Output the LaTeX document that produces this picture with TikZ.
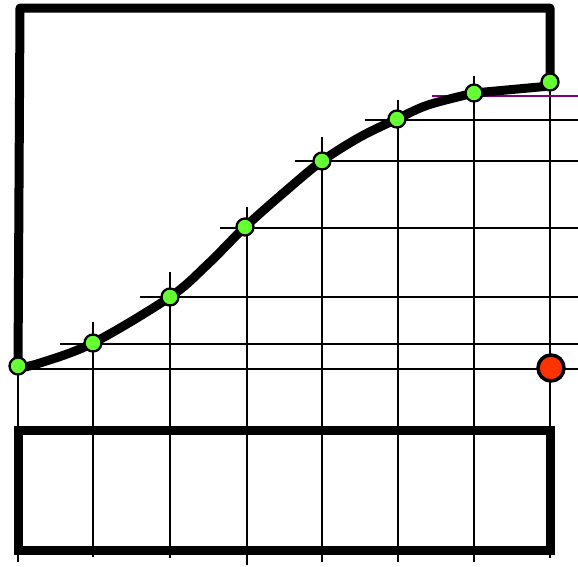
\documentclass[tikz,border=0pt]{standalone}
\usetikzlibrary{calc}
\definecolor{dotgreen}{RGB}{102,255,51}
\definecolor{dotred}{RGB}{255,51,0}
\definecolor{lilac}{RGB}{128,0,128}
\tikzset{
  thickline/.style={line width=9pt, line cap=round, line join=round},
  gridline/.style={line width=2.7pt},
  gdot/.style={circle, draw=black, line width=2.3pt, fill=dotgreen, inner sep=0pt, minimum size=17pt},
  rdot/.style={circle, draw=black, line width=3.5pt, fill=dotred, inner sep=0pt, minimum size=26pt},
}
\begin{document}
\begin{tikzpicture}[x=1pt,y=-1pt]
\useasboundingbox (0,0) rectangle (578,566);
% vertical grid lines
\draw[gridline] (18,366) -- (18,562);
\draw[gridline] (93,322) -- (93,557);
\draw[gridline] (170,272) -- (170,558);
\draw[gridline] (247,207) -- (247,565);
\draw[gridline] (322,137) -- (322,562);
\draw[gridline] (398,100) -- (398,562);
\draw[gridline] (474,76) -- (474,562);
\draw[gridline] (550,82) -- (550,558);
% horizontal grid lines
\draw[gridline] (18,369) -- (578,369);
\draw[gridline] (60,344) -- (578,344);
\draw[gridline] (140,297) -- (578,297);
\draw[gridline] (220,228) -- (578,228);
\draw[gridline] (295,161) -- (578,161);
\draw[gridline] (365,120) -- (578,120);
\draw[line width=2.4pt, lilac] (432,96) -- (578,96);
% frame
\draw[thickline] (18,368) -- (20,8) -- (550,8) -- (550,86);
% bottom box
\draw[line width=9pt] (18,430) rectangle (550,550);
% curve
\draw[thickline] plot[smooth, tension=0.55] coordinates {(18,368) (40,363) (93,343) (170,297) (208,264) (245,227) (288,189) (322,161) (360,137) (397,119) (428,105) (474,93)} -- (550,86);
% dots
\node[gdot] (p0) at (18,366) {};
\node[gdot] (p1) at (93,343) {};
\node[gdot] (p2) at (170,297) {};
\node[gdot] (p3) at (245,227) {};
\node[gdot] (p4) at (322,161) {};
\node[gdot] (p5) at (397,119) {};
\node[gdot] (p6) at (474,93) {};
\node[gdot] (p7) at (550,82) {};
\node[rdot] (r) at (551,368) {};
\end{tikzpicture}
\end{document}
